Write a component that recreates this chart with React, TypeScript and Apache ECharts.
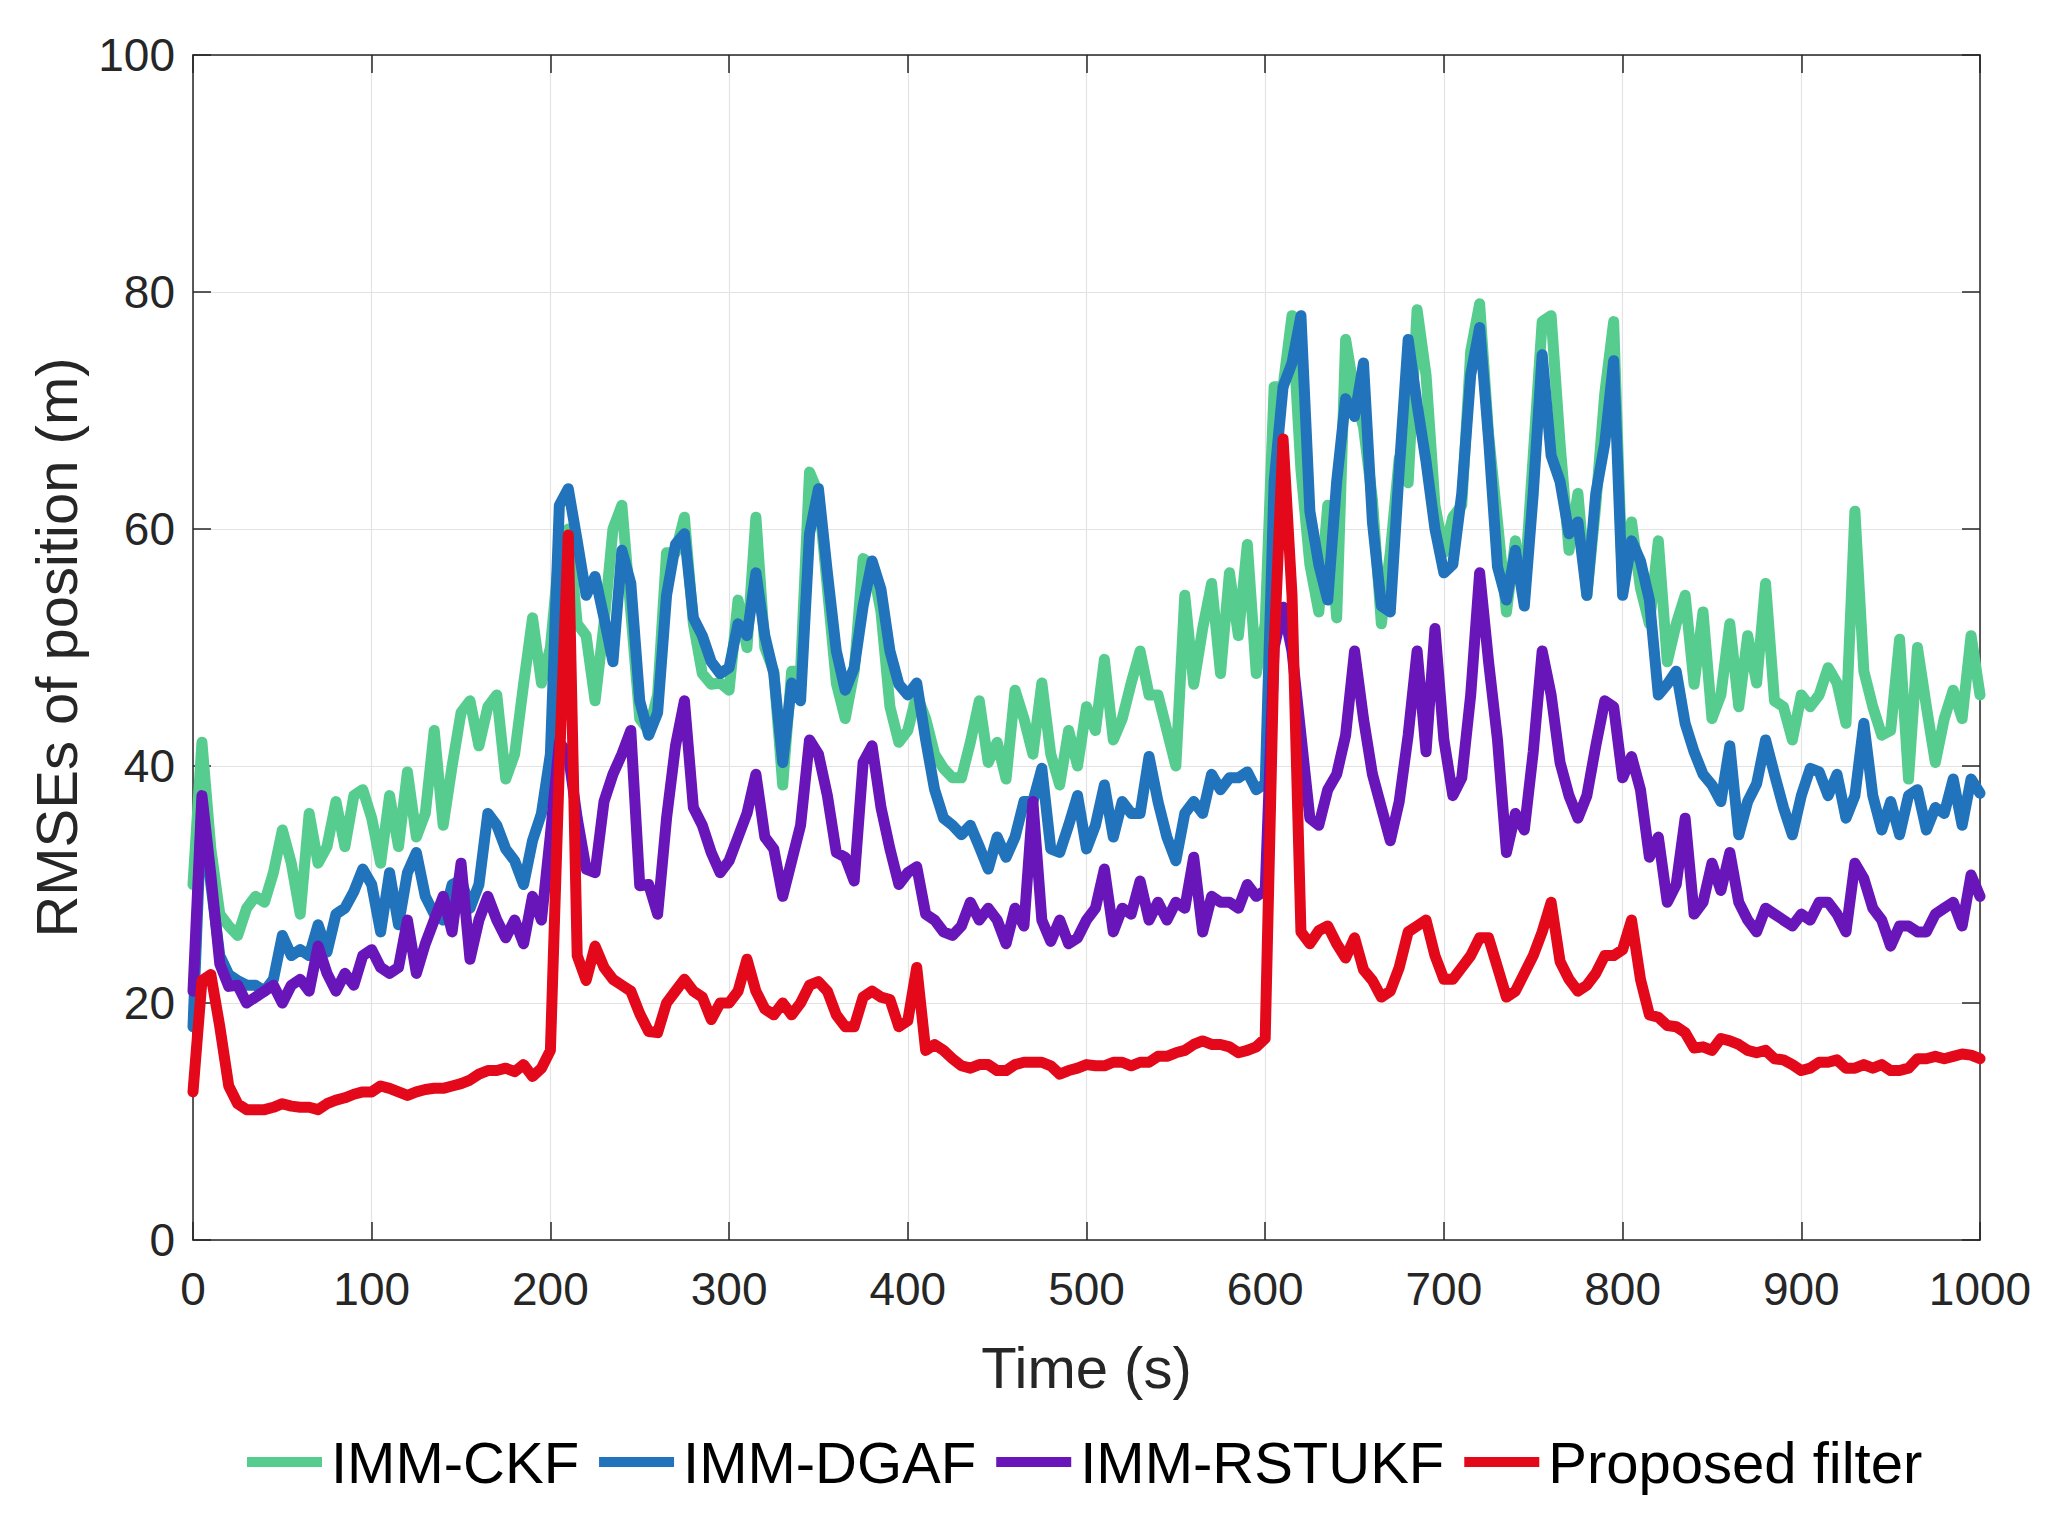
import React, { useEffect, useRef } from 'react';
import * as echarts from 'echarts';

// sample step of the time axis (s); one value per step from 0 to 1000
const T_STEP = 5;

const seriesNames = ['IMM-CKF', 'IMM-DGAF', 'IMM-RSTUKF', 'Proposed filter'];
const seriesColors = ['#57cc8f', '#2173bb', '#6816b9', '#e3081a'];

const xTicks = [0, 100, 200, 300, 400, 500, 600, 700, 800, 900, 1000];
const yTicks = [0, 20, 40, 60, 80, 100];

// IMM-CKF (green)
const ckf = [
  30, 42, 33, 27.5, 26.5, 25.7, 28, 29, 28.5, 31,
  34.6, 31.8, 27.5, 36, 31.8, 33.2, 37, 33.2, 37.5, 38,
  35.6, 31.8, 37.5, 33.2, 39.5, 34, 36, 43, 35, 40,
  44.5, 45.5, 41.7, 45, 46, 38.9, 41, 46.9, 52.5, 47,
  50, 58, 60, 52, 51, 45.5, 52, 60, 62, 53,
  44, 43, 46, 58, 58, 61, 52, 47.8, 46.9, 47,
  46.4, 54, 50, 61, 50, 48, 38.4, 48, 48, 64.8,
  63, 55, 47, 44, 48, 57.5, 57, 53, 45, 42,
  43, 46, 44, 41, 39.8, 39, 39, 42, 45.5, 40.3,
  42, 38.9, 46.4, 44, 41, 47, 41, 38.4, 43, 40,
  45, 43, 49, 42.2, 44, 47, 49.7, 46, 46, 43,
  40, 54.4, 46.9, 51.6, 55.4, 47.8, 56.3, 51, 58.7, 47.8,
  52, 72, 72, 78, 65, 57, 53, 62, 52.5, 76,
  71.4, 68.6, 62.5, 52, 58, 66, 63.9, 78.5, 73, 62,
  58, 61, 62, 75, 79, 68, 60.6, 53, 59, 55,
  66.2, 77.5, 78, 67.2, 58.2, 63, 54.4, 62, 71.4, 77.5,
  55, 60.6, 55, 52, 59, 48.8, 52, 54.4, 46.9, 53,
  44, 46, 52, 45, 51, 47, 55.4, 45.5, 45, 42.2,
  46, 45, 46, 48.3, 47, 43.6, 61.5, 48, 45, 42.6,
  43, 50.7, 38.9, 50, 45, 40.3, 44, 46.4, 44, 51,
  46,
];

// IMM-DGAF (blue)
const dgaf = [
  18, 37, 30, 24, 22.4, 21.9, 21.5, 21.5, 21, 22,
  25.7, 24, 24.5, 24, 26.6, 24.3, 27.5, 28, 29.4, 31.3,
  30, 26, 31, 26.6, 31, 32.7, 29, 27.5, 27, 30,
  30.4, 28, 30, 36, 35, 33, 32, 30, 33.7, 36,
  41, 62, 63.4, 59, 54.4, 56, 52.5, 48.8, 58.2, 55.4,
  45.5, 42.6, 44.5, 54.4, 58.7, 59.6, 52.5, 51, 48.8, 47.8,
  48.3, 52, 51, 56.3, 51, 47.8, 40.3, 47, 45.5, 59.6,
  63.4, 56.3, 49.7, 46.4, 48.3, 53.5, 57.3, 54.9, 49.7, 46.9,
  46, 47, 42.2, 38, 35.6, 35, 34.2, 35, 33.2, 31.3,
  34, 32.3, 34, 37, 37, 39.8, 33, 32.7, 35, 37.5,
  33, 35, 38.4, 34, 37, 36, 36, 40.8, 37, 34,
  32, 36, 37, 36, 39.3, 38, 39, 39, 39.5, 38,
  38.5, 64, 72, 74, 78, 61.5, 57, 54, 64, 71,
  69.5, 74, 60.6, 53.5, 53, 65, 76, 70.5, 65.7, 60,
  56.3, 57, 63, 73, 77, 67.6, 56.8, 54, 58.2, 53.5,
  63, 74.7, 66.2, 64, 59.6, 60.6, 54.4, 63, 67.2, 74.2,
  54.4, 59, 57.3, 54, 46, 46.9, 48, 43.6, 41.2, 39.3,
  38.4, 37, 41.7, 34.2, 37, 38.5, 42.2, 39.3, 36.5, 34.2,
  37.5, 39.8, 39.5, 37.5, 39.3, 35.6, 37.5, 43.6, 37.5, 34.6,
  37, 34.2, 37.5, 38, 34.6, 36.5, 36, 38.9, 35, 38.9,
  37.7,
];

// IMM-RSTUKF (purple)
const rstukf = [
  21, 37.5, 30.8, 23.3, 21.4, 21.5, 20, 20.5, 21, 21.5,
  20, 21.5, 22, 21, 24.8, 22.5, 21, 22.5, 21.5, 24,
  24.5, 23, 22.5, 23, 27, 22.5, 25, 27, 29, 26,
  31.8, 23.7, 27, 29, 27, 25.5, 27, 25, 29, 27,
  34.2, 42, 41, 35.6, 31.3, 31, 37, 39.3, 41, 43,
  29.9, 30, 27.5, 35.6, 41.7, 45.5, 36.5, 35, 32.7, 31,
  32, 34, 36, 39.3, 34, 33, 29, 32, 35, 42.2,
  41, 37.5, 32.7, 32.3, 30.3, 40.3, 41.7, 36.5, 33, 30,
  31, 31.5, 27.5, 27, 26, 25.7, 26.5, 28.5, 27, 28,
  27, 25, 28, 26.5, 37, 27, 25.2, 27, 25, 25.5,
  27, 28, 31.3, 26, 28, 27.5, 30.3, 27, 28.5, 27,
  28.5, 28, 32.3, 26, 29, 28.5, 28.5, 28, 30, 29,
  29.5, 50, 53.4, 49.7, 42.6, 35.6, 35, 38, 39.3, 42.6,
  49.7, 44, 39.3, 36.5, 33.7, 37, 42.6, 49.7, 41.2, 51.6,
  42.2, 37.5, 39, 46, 56.3, 48.8, 42.2, 32.7, 36, 34.6,
  41.2, 49.7, 46, 40.3, 37.5, 35.6, 37.5, 41.7, 45.5, 45,
  39, 40.8, 38, 32.3, 34, 28.5, 30, 35.6, 27.5, 28.5,
  31.8, 29.5, 32.7, 28.5, 27, 26, 28, 27.5, 27, 26.5,
  27.5, 27, 28.5, 28.5, 27.5, 26, 31.8, 30.5, 28, 27,
  24.8, 26.5, 26.5, 26, 26, 27.5, 28, 28.5, 26.5, 30.8,
  29,
];

// Proposed filter (red)
const proposed = [
  12.5, 21.9, 22.4, 18, 13, 11.5, 11, 11, 11, 11.2,
  11.5, 11.3, 11.2, 11.2, 11, 11.5, 11.8, 12, 12.3, 12.5,
  12.5, 13, 12.8, 12.5, 12.2, 12.5, 12.7, 12.8, 12.8, 13,
  13.2, 13.5, 14, 14.3, 14.3, 14.5, 14.2, 14.8, 13.8, 14.5,
  16, 40, 59.5, 24, 21.9, 24.8, 23, 22, 21.5, 21,
  19.1, 17.6, 17.5, 20, 21, 22, 21, 20.5, 18.6, 20,
  20, 21, 23.7, 21, 19.5, 19, 20, 19, 20, 21.5,
  21.8, 21, 19, 18, 18, 20.5, 21, 20.5, 20.3, 18,
  18.5, 23, 16, 16.5, 16, 15.3, 14.7, 14.5, 14.8, 14.8,
  14.3, 14.3, 14.8, 15, 15, 15, 14.7, 14, 14.3, 14.5,
  14.8, 14.7, 14.7, 15, 15, 14.7, 15, 15, 15.5, 15.5,
  15.8, 16, 16.5, 16.8, 16.5, 16.5, 16.3, 15.8, 16, 16.3,
  17, 50, 67.6, 54.4, 26, 25, 26.1, 26.5, 25, 23.8,
  25.5, 22.8, 21.9, 20.5, 21, 23, 26, 26.5, 27, 24,
  22, 22, 23, 24, 25.5, 25.5, 23, 20.5, 21, 22.5,
  24, 26, 28.5, 23.5, 22, 21, 21.5, 22.5, 24, 24,
  24.5, 27, 22, 19, 18.8, 18.1, 18, 17.5, 16.2, 16.3,
  16, 17, 16.8, 16.5, 16, 15.8, 16, 15.3, 15.2, 14.8,
  14.3, 14.5, 15, 15, 15.2, 14.5, 14.5, 14.8, 14.5, 14.8,
  14.3, 14.3, 14.5, 15.3, 15.3, 15.5, 15.3, 15.5, 15.7, 15.6,
  15.3,
];

const allSeries = [ckf, dgaf, rstukf, proposed];

const FONT = '"Liberation Sans", Arial, Helvetica, sans-serif';
const AXIS_COLOR = '#262626';

const App: React.FC = () => {
  const chartRef = useRef<HTMLDivElement>(null);

  useEffect(() => {
    document.body.style.margin = '0';
    if (!chartRef.current) return;
    const chart = echarts.init(chartRef.current, undefined, { renderer: 'svg' });

    const axisLine = { show: true, onZero: false, lineStyle: { color: AXIS_COLOR, width: 1.5 } };
    const axisTick = { show: true, inside: true, length: 18, lineStyle: { color: AXIS_COLOR, width: 1.5 } };
    const splitLine = { show: true, lineStyle: { color: '#e3e3e3', width: 1.2 } };

    const option = {
      animation: false,
      backgroundColor: '#ffffff',
      textStyle: { fontFamily: FONT },
      grid: { left: 193, right: 84, top: 55, bottom: 281 },
      legend: {
        data: seriesNames,
        icon: 'rect',
        itemWidth: 75,
        itemHeight: 10,
        itemGap: 20,
        left: 247,
        top: 1433,
        padding: 0,
        textStyle: { fontSize: 58, color: '#000000', fontFamily: FONT, padding: [0, 0, 0, 4] },
      },
      xAxis: [
        {
          type: 'value',
          position: 'bottom',
          min: xTicks[0],
          max: xTicks[xTicks.length - 1],
          interval: 100,
          axisLine,
          axisTick,
          splitLine,
          axisLabel: {
            fontSize: 46,
            color: AXIS_COLOR,
            margin: 26,
            fontFamily: FONT,
            formatter: (v: number) => String(v),
          },
          name: 'Time (s)',
          nameLocation: 'middle',
          nameGap: 98,
          nameTextStyle: { fontSize: 58, color: AXIS_COLOR, fontFamily: FONT },
        },
        {
          type: 'value',
          position: 'top',
          min: xTicks[0],
          max: xTicks[xTicks.length - 1],
          interval: 100,
          axisLine,
          axisTick,
          splitLine: { show: false },
          axisLabel: { show: false },
        },
      ],
      yAxis: [
        {
          type: 'value',
          position: 'left',
          min: yTicks[0],
          max: yTicks[yTicks.length - 1],
          interval: 20,
          axisLine,
          axisTick,
          splitLine,
          axisLabel: { fontSize: 46, color: AXIS_COLOR, margin: 18, fontFamily: FONT },
          name: 'RMSEs of position (m)',
          nameLocation: 'middle',
          nameGap: 108,
          nameRotate: 90,
          nameTextStyle: { fontSize: 58, color: AXIS_COLOR, fontFamily: FONT },
        },
        {
          type: 'value',
          position: 'right',
          min: yTicks[0],
          max: yTicks[yTicks.length - 1],
          interval: 20,
          axisLine,
          axisTick,
          splitLine: { show: false },
          axisLabel: { show: false },
        },
      ],
      series: allSeries.map((vals, i) => ({
        name: seriesNames[i],
        type: 'line',
        xAxisIndex: 0,
        yAxisIndex: 0,
        showSymbol: false,
        symbol: 'none',
        z: 2 + i,
        data: vals.map((v, k) => [k * T_STEP, v]),
        lineStyle: { width: 11, color: seriesColors[i], cap: 'round', join: 'round' },
        itemStyle: { color: seriesColors[i] },
      })),
    };

    chart.setOption(option);
    return () => {
      chart.dispose();
    };
  }, []);

  return <div ref={chartRef} style={{ width: 2064, height: 1521, background: '#fff' }} />;
};

export default App;
